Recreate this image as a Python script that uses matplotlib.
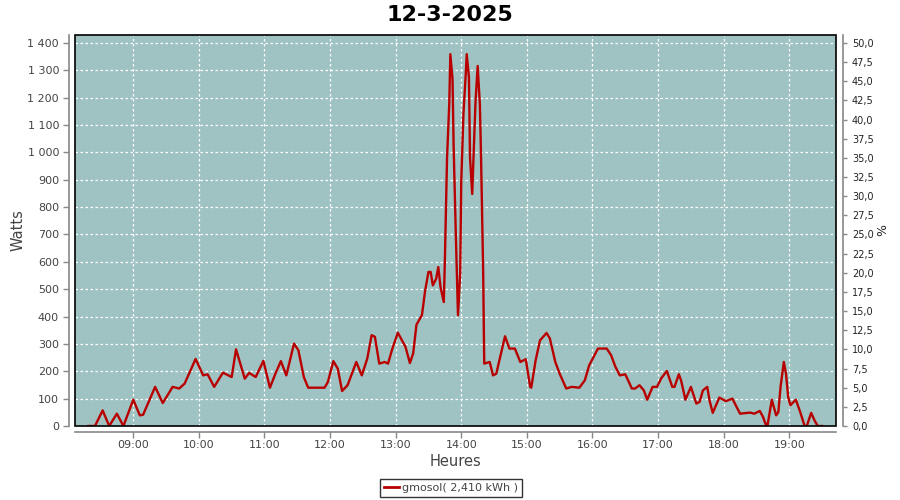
import matplotlib
matplotlib.use("Agg")
import matplotlib.pyplot as plt
import matplotlib.patches as patches
from matplotlib.ticker import FuncFormatter, MultipleLocator, FixedLocator

title = "12-3-2025"
series_name = "gmosol( 2,410 kWh )"

times = ["08:19", "08:25", "08:32", "08:38", "08:45", "08:51", "09:00", "09:06", "09:09", "09:20",
         "09:27", "09:36", "09:42", "09:47", "09:57", "10:04", "10:08", "10:14", "10:22", "10:30",
         "10:34", "10:42", "10:46", "10:52", "10:59", "11:05", "11:10", "11:15", "11:20", "11:27",
         "11:31", "11:36", "11:40", "11:49", "11:55", "11:58", "12:03", "12:07", "12:11", "12:16",
         "12:24", "12:29", "12:34", "12:38", "12:41", "12:45", "12:50", "12:53", "12:57", "13:02",
         "13:09", "13:13", "13:16", "13:19", "13:24", "13:27", "13:30", "13:32", "13:34", "13:37",
         "13:39", "13:41", "13:44", "13:45", "13:47", "13:49", "13:50", "13:52", "13:53", "13:55",
         "13:57", "13:59", "14:00", "14:02", "14:04", "14:05", "14:07", "14:08", "14:10", "14:11",
         "14:13", "14:15", "14:17", "14:18", "14:20", "14:21", "14:26", "14:29", "14:32", "14:40",
         "14:44", "14:49", "14:54", "14:59", "15:03", "15:04", "15:08", "15:12", "15:18", "15:21",
         "15:26", "15:30", "15:36", "15:41", "15:48", "15:53", "15:57", "16:01", "16:05", "16:10",
         "16:13", "16:17", "16:21", "16:25", "16:30", "16:36", "16:39", "16:43", "16:47", "16:50",
         "16:55", "16:59", "17:03", "17:08", "17:13", "17:15", "17:19", "17:21", "17:25", "17:30",
         "17:35", "17:38", "17:41", "17:45", "17:47", "17:50", "17:56", "18:02", "18:08", "18:11",
         "18:15", "18:24", "18:28", "18:33", "18:36", "18:39", "18:40", "18:44", "18:48", "18:50",
         "18:52", "18:55", "18:57", "18:59", "19:01", "19:06", "19:10", "19:14", "19:16", "19:20",
         "19:23", "19:26", "19:30"]

watts = [0, 0, 57, 0, 45, 0, 96, 39, 41, 143,
         84, 143, 137, 155, 245, 185, 189, 143, 195, 179,
         280, 173, 194, 179, 238, 140, 191, 237, 185, 301,
         277, 179, 140, 140, 140, 161, 237, 210, 128, 149,
         234, 185, 246, 332, 326, 228, 234, 228, 283, 341,
         289, 230, 265, 370, 405, 496, 563, 563, 514, 538,
         581, 508, 453, 605, 982, 1176, 1359, 1268, 1024, 702,
         405, 557, 897, 1141, 1280, 1359, 1274, 982, 848, 958,
         1183, 1316, 1176, 1000, 569, 228, 234, 185, 191, 328,
         283, 283, 234, 244, 143, 140, 240, 313, 340, 320,
         234, 191, 137, 143, 140, 167, 222, 252, 283, 283,
         283, 259, 216, 185, 189, 137, 137, 149, 130, 96,
         143, 143, 175, 201, 143, 143, 189, 167, 96, 143,
         82, 88, 130, 143, 94, 48, 104, 91, 100, 76,
         45, 49, 45, 55, 33, 0, 0, 96, 39, 51,
         143, 234, 191, 106, 76, 96, 51, 0, 0, 48,
         21, 0, 0]

x_ticks = [9, 10, 11, 12, 13, 14, 15, 16, 17, 18, 19]


def to_hours(t):
    h, m = t.split(":")
    return int(h) + int(m) / 60.0


xs = [to_hours(t) for t in times]

plt.rcParams['font.family'] = ['DejaVu Sans']

fig = plt.figure(figsize=(9, 5), dpi=100)
fig.patch.set_facecolor('white')
ax = fig.add_axes([75 / 900, 1 - 426 / 500, (836 - 75) / 900, (426 - 35) / 500])
ax.set_facecolor('#9fc3c2')

ax.plot(xs, watts, color='#b80000', lw=1.7, zorder=3, solid_joinstyle='round')

ax.set_xlim(8.112, 19.712)
ax.set_ylim(0, 1429)

ax.xaxis.set_major_locator(FixedLocator(x_ticks))
ax.xaxis.set_major_formatter(FuncFormatter(lambda v, p: "%02d:00" % int(round(v))))
ax.yaxis.set_major_locator(MultipleLocator(100))
ax.yaxis.set_major_formatter(FuncFormatter(lambda v, p: "{:,}".format(int(round(v))).replace(",", " ")))

ax.grid(True, color='white', linestyle=(0, (2, 2)), lw=0.9)
ax.set_axisbelow(True)

for s in ['top', 'right']:
    ax.spines[s].set_visible(False)
for s in ['left', 'bottom']:
    ax.spines[s].set_position(('outward', 4))
    ax.spines[s].set_color('#888888')
    ax.spines[s].set_linewidth(1.2)

ax.tick_params(axis='both', colors='#888888', labelcolor='#444444', labelsize=8, length=4, width=1)
ax.tick_params(axis='x', pad=2)

border = patches.Rectangle((0, 0), 1, 1, transform=ax.transAxes, fill=False,
                           edgecolor='black', lw=1.2, clip_on=False, zorder=6)
ax.add_patch(border)

ax2 = ax.twinx()
ax2.set_ylim(0, 1429 / 28.0)
ax2.yaxis.set_major_locator(MultipleLocator(2.5))
ax2.yaxis.set_major_formatter(FuncFormatter(lambda v, p: ("%.1f" % v).replace(".", ",")))
for s in ['top', 'left', 'bottom']:
    ax2.spines[s].set_visible(False)
ax2.spines['right'].set_position(('outward', 5))
ax2.spines['right'].set_color('#888888')
ax2.spines['right'].set_linewidth(1.2)
ax2.tick_params(axis='y', colors='#888888', labelcolor='#222222', labelsize=7, length=3, width=1)

ax.set_xlabel("Heures", fontsize=10.5, color='#444444', labelpad=3)
ax.set_ylabel("Watts", fontsize=10.5, color='#444444', labelpad=1)
ax2.set_ylabel("%", fontsize=9, color='#222222', labelpad=2)

fig.text(0.5, 1 - 15 / 500, title, ha='center', va='center', fontsize=16, fontweight='bold')

handle = plt.Line2D([], [], color='#b80000', lw=2)
leg = fig.legend([handle], [series_name], loc='center', bbox_to_anchor=(451 / 900, 1 - 488 / 500),
                 frameon=True, fancybox=False, fontsize=8, handlelength=1.3, handletextpad=0.3,
                 borderpad=0.35, borderaxespad=0)
leg.get_frame().set_edgecolor('black')
leg.get_frame().set_linewidth(1)
for t in leg.get_texts():
    t.set_color('#444444')

fig.savefig("out.png", dpi=100, facecolor='white')
